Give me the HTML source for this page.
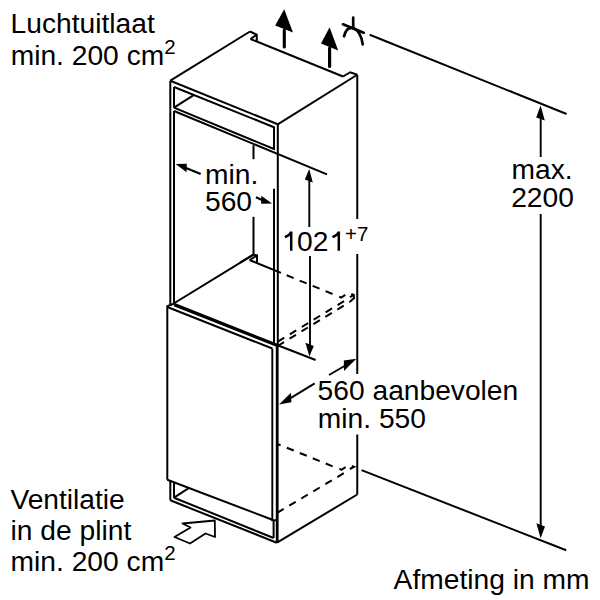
<!DOCTYPE html>
<html><head><meta charset="utf-8"><style>
html,body{margin:0;padding:0;background:#fff;width:600px;height:600px;overflow:hidden}
svg{display:block}
text{font-family:"Liberation Sans",sans-serif;fill:#000}
</style></head><body>
<svg width="600" height="600" viewBox="0 0 600 600">
<g stroke="#000" fill="none" stroke-linecap="butt" stroke-linejoin="miter">
<line x1="170.3" y1="80.7" x2="250" y2="31.5" stroke-width="2.0" />
<polyline points="250,31.5 256.75,34.75 256.75,41.5" stroke-width="2.0" fill="none" />
<line x1="250.5" y1="39" x2="256.75" y2="34.75" stroke-width="2.0" />
<line x1="250.5" y1="39" x2="343" y2="76.5" stroke-width="2.0" />
<polyline points="343,76.5 350.25,72.25 357.25,74.75" stroke-width="2.0" fill="none" />
<line x1="357.25" y1="74.75" x2="277.7" y2="124.3" stroke-width="2.0" />
<line x1="170.3" y1="80.7" x2="277.7" y2="124.3" stroke-width="2.0" />
<line x1="357.25" y1="74.75" x2="357.25" y2="219" stroke-width="2.0" />
<line x1="357.25" y1="254" x2="357.25" y2="374" stroke-width="2.0" />
<line x1="357.25" y1="434.5" x2="357.25" y2="494.5" stroke-width="2.0" />
<line x1="357.25" y1="494.5" x2="277" y2="542.7" stroke-width="2.0" />
<line x1="170.3" y1="80.7" x2="170.3" y2="304.3" stroke-width="2.0" />
<line x1="174" y1="87" x2="174" y2="107.7" stroke-width="2.0" />
<line x1="174" y1="111" x2="174" y2="304.3" stroke-width="2.0" />
<polyline points="174,87 274,127.2 274,149 174,107.7" stroke-width="2.0" fill="none" />
<line x1="174" y1="107.7" x2="193.3" y2="95.3" stroke-width="2.0" />
<line x1="174" y1="111" x2="327" y2="174.4" stroke-width="2.0" />
<line x1="277.8" y1="124.3" x2="277.8" y2="345" stroke-width="2.0" />
<line x1="277.2" y1="345" x2="277.2" y2="543" stroke-width="2.8" />
<line x1="274" y1="188.7" x2="274" y2="345" stroke-width="2.0" />
<line x1="253.5" y1="145.2" x2="253.5" y2="159.2" stroke-width="2.0" />
<line x1="253.5" y1="216.8" x2="253.5" y2="254.6" stroke-width="2.0" />
<polyline points="253.5,254.6 257,255.4 257,262.5" stroke-width="2.0" fill="none" />
<line x1="249.6" y1="260" x2="281" y2="272.9" stroke-width="2.0" />
<line x1="240" y1="262.5" x2="253.5" y2="254.6" stroke-width="2.0" />
<line x1="249.6" y1="260" x2="256.8" y2="255.6" stroke-width="2.0" />
<line x1="174.5" y1="303" x2="253.5" y2="254.6" stroke-width="2.0" />
<line x1="286.7" y1="275.3" x2="337.5" y2="296.0" stroke-width="2.0" stroke-dasharray="7.5 6.5" stroke-dashoffset="0"/>
<polyline points="339.2,296.6 341.2,297.5 345.3,294.8" stroke-width="2.0" fill="none" />
<line x1="277.9" y1="341.6" x2="347" y2="299.3" stroke-width="2.0" stroke-dasharray="7.5 6.5" stroke-dashoffset="0"/>
<line x1="277.6" y1="346" x2="350" y2="301.8" stroke-width="2.0" stroke-dasharray="7.5 6.5" stroke-dashoffset="0"/>
<polyline points="351.3,293.8 353.8,295 354,298 350,301.8" stroke-width="2.0" fill="none" />
<line x1="349.9" y1="297.2" x2="353.5" y2="295.2" stroke-width="2.0" />
<polyline points="167.3,479.7 167.3,306.3 174.3,303.5" stroke-width="2.0" fill="none" />
<line x1="174.3" y1="304.6" x2="277" y2="345.3" stroke-width="3.3" />
<line x1="167.3" y1="307" x2="272.3" y2="348.5" stroke-width="2.0" />
<line x1="272.3" y1="348.5" x2="272.3" y2="521.3" stroke-width="1.9" />
<line x1="167.3" y1="479.7" x2="274.3" y2="520.5" stroke-width="2.0" />
<line x1="277" y1="345" x2="315.6" y2="360" stroke-width="2.0" />
<line x1="170.3" y1="481" x2="170.3" y2="500.3" stroke-width="2.0" />
<line x1="174" y1="482.3" x2="174" y2="497.7" stroke-width="2.0" />
<line x1="170.3" y1="500.3" x2="276.7" y2="542.7" stroke-width="2.0" />
<line x1="174" y1="497.7" x2="273.6" y2="538" stroke-width="2.0" />
<line x1="273.6" y1="521.6" x2="273.6" y2="538" stroke-width="2.0" />
<line x1="272.8" y1="521.3" x2="276.8" y2="519.6" stroke-width="2.0" />
<line x1="174" y1="497.7" x2="188.3" y2="488.3" stroke-width="2.0" />
<line x1="278" y1="444.3" x2="280.6" y2="445.2" stroke-width="2.0" />
<line x1="286.8" y1="447.7" x2="337.5" y2="468.3" stroke-width="2.0" stroke-dasharray="7.5 6.5" stroke-dashoffset="0"/>
<polyline points="339.4,468.7 341.4,469.8 345.6,467.2" stroke-width="2.0" fill="none" />
<line x1="277.2" y1="512.8" x2="347" y2="471.3" stroke-width="2.0" stroke-dasharray="7.5 6.5" stroke-dashoffset="0"/>
<polyline points="351.8,466 354,466.8 349.8,469" stroke-width="2.0" fill="none" />
<line x1="361.5" y1="470.1" x2="566.2" y2="550.3" stroke-width="2.0" />
<line x1="369.7" y1="34.7" x2="566.6" y2="114" stroke-width="2.0" />
<polygon points="214.8,520.5 182.5,523.5 190.5,527.5 174.5,537 190,543.5 205.5,533.5 215,537" stroke-width="1.8" fill="none" stroke-linejoin="round"/>
<line x1="284.3" y1="30" x2="284.3" y2="47" stroke-width="3.1" stroke-linecap="round"/>
<polygon points="284.2,9.2 275.2,25.4 293,32.6" fill="#000" stroke="none"/>
<line x1="329.6" y1="48" x2="329.6" y2="66.5" stroke-width="3.2" stroke-linecap="round"/>
<polygon points="329.6,27.2 321,43.6 338.2,50.4" fill="#000" stroke="none"/>
<g stroke-width="2.7" stroke-linecap="round" fill="none"><line x1="353.2" y1="17.7" x2="353.2" y2="27"/><line x1="343" y1="24.3" x2="363.7" y2="32.7"/><path d="M344,36.3 C345.5,30.5 348.5,27.6 352,27.9 C358,28.6 362,37 362.7,44.3"/></g>
<line x1="540.7" y1="117" x2="540.7" y2="157" stroke-width="1.9" />
<polygon points="540.6,105.6 536.2,117.4 544.8,120.6" fill="#000" stroke="none"/>
<line x1="540.7" y1="214" x2="540.7" y2="526" stroke-width="1.9" />
<polygon points="540.6,538.2 536.4,523.2 545,526.6" fill="#000" stroke="none"/>
<line x1="309.3" y1="180" x2="309.3" y2="227" stroke-width="1.9" />
<polygon points="309.2,169 304.8,179.4 312.8,182.4" fill="#000" stroke="none"/>
<line x1="310" y1="256" x2="310" y2="345" stroke-width="1.9" />
<polygon points="309.4,356.4 305.4,342.8 313.8,346" fill="#000" stroke="none"/>
<line x1="186" y1="168" x2="200.7" y2="174" stroke-width="2.2" />
<polygon points="175.6,164 186.8,163.8 186.6,172.2" fill="#000" stroke="none"/>
<line x1="256" y1="197.2" x2="262" y2="199.9" stroke-width="2.2" />
<polygon points="272.1,203.5 261.3,195.8 261.1,203.8" fill="#000" stroke="none"/>
<line x1="344.5" y1="366" x2="329" y2="375" stroke-width="2.0" />
<polygon points="356.3,358.8 343.8,360.5 344,371" fill="#000" stroke="none"/>
<line x1="314.7" y1="383.3" x2="291" y2="397.8" stroke-width="2.0" />
<polygon points="279,404.5 291,392.8 291.4,402.3" fill="#000" stroke="none"/>
<path d="M291.2,250.8 V231.6 M291.6,231.8 C290.2,234.2 288,235.8 284.9,237.1" stroke-width="2.5" fill="none" stroke-linecap="butt"/>
<path d="M338.8,250.8 V231.6 M339.20000000000005,231.8 C337.8,234.2 335.6,235.8 332.5,237.1" stroke-width="2.5" fill="none" stroke-linecap="butt"/>
</g>
<g>
<text x="10.6" y="33.1" font-size="28.2" text-anchor="start">Luchtuitlaat</text>
<text x="10.7" y="64.6" font-size="28.2" text-anchor="start">min. 200 cm<tspan dy="-10.8" font-size="20.5">2</tspan></text>
<text x="205" y="184.4" font-size="28.2" text-anchor="start">min.</text>
<text x="205" y="211.2" font-size="28.2" text-anchor="start">560</text>
<text x="297" y="250.8" font-size="28.2" text-anchor="start">02</text>
<text x="345" y="241" font-size="20.5" text-anchor="start">+7</text>
<text x="511.6" y="178.6" font-size="28.2" text-anchor="start">max.</text>
<text x="511.2" y="207.4" font-size="28.2" text-anchor="start">2200</text>
<text x="317.6" y="399.6" font-size="28.2" text-anchor="start">560 aanbevolen</text>
<text x="317.8" y="427.7" font-size="28.2" text-anchor="start">min. 550</text>
<text x="10.4" y="508.6" font-size="28.2" text-anchor="start">Ventilatie</text>
<text x="10.6" y="540.4" font-size="28.2" text-anchor="start">in de plint</text>
<text x="10.6" y="571" font-size="28.2" text-anchor="start">min. 200 cm<tspan dy="-10.8" font-size="20.5">2</tspan></text>
<text x="393.6" y="589.4" font-size="28.2" text-anchor="start">Afmeting in mm</text>
</g>
</svg>
</body></html>
